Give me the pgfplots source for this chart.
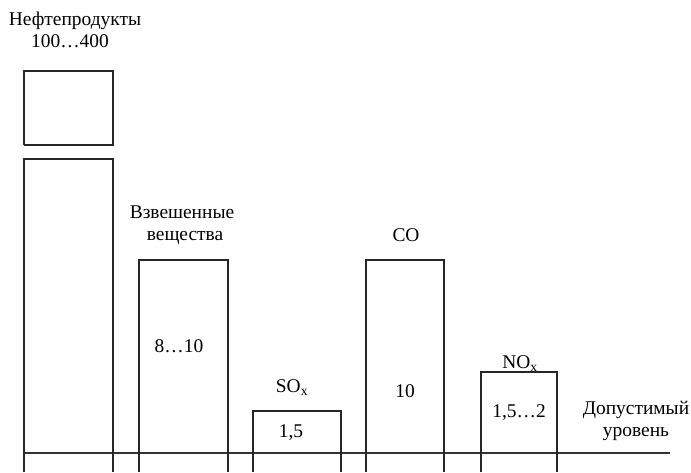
\documentclass[border=0pt]{standalone}
\usepackage{fontspec}
\setmainfont{Liberation Serif}
\usepackage{pgfplots}
\pgfplotsset{compat=1.18}
\begin{document}
\begin{tikzpicture}[lbl/.style={anchor=base, inner sep=0pt, font=\fontsize{19.5}{22}\selectfont}]
\begin{axis}[
  width=691bp, height=472bp, scale only axis,
  xmin=0, xmax=691, ymin=-19, ymax=453,
  hide axis, clip=false,
]
% invisible frame to fix the page size
\addplot[draw=none] coordinates {(0,-19) (691,453)};
% baseline: permissible level
\addplot[black!80, line width=1.1pt] coordinates {(24,0) (670,0)};
% Нефтепродукты (broken bar)
\addplot[black!85, line width=1.1pt] coordinates {(24,-19) (24,294) (113,294) (113,-19)};
\addplot[black!85, line width=1.1pt] coordinates {(24,308) (24,382) (113,382) (113,308) (24,308)};
% Взвешенные вещества
\addplot[black!85, line width=1.1pt] coordinates {(139,-19) (139,193) (228,193) (228,-19)};
% SOx
\addplot[black!85, line width=1.1pt] coordinates {(253,-19) (253,42) (341,42) (341,-19)};
% CO
\addplot[black!85, line width=1.1pt] coordinates {(366,-19) (366,193) (444,193) (444,-19)};
% NOx
\addplot[black!85, line width=1.1pt] coordinates {(481,-19) (481,81) (557,81) (557,-19)};

\node[lbl] at (axis cs:75,427) {Нефтепродукты};
\node[lbl] at (axis cs:70,405) {100…400};
\node[lbl] at (axis cs:182,234) {Взвешенные};
\node[lbl] at (axis cs:185,212) {вещества};
\node[lbl] at (axis cs:179,101) {8…10};
\node[lbl] at (axis cs:292,61) {SO\textsubscript{x}};
\node[lbl] at (axis cs:291,16) {1,5};
\node[lbl] at (axis cs:406,211) {CO};
\node[lbl] at (axis cs:405,56) {10};
\node[lbl] at (axis cs:520,85) {NO\textsubscript{x}};
\node[lbl] at (axis cs:519,36) {1,5…2};
\node[lbl] at (axis cs:636,39) {Допустимый};
\node[lbl] at (axis cs:636,17) {уровень};
\end{axis}
\end{tikzpicture}
\end{document}
